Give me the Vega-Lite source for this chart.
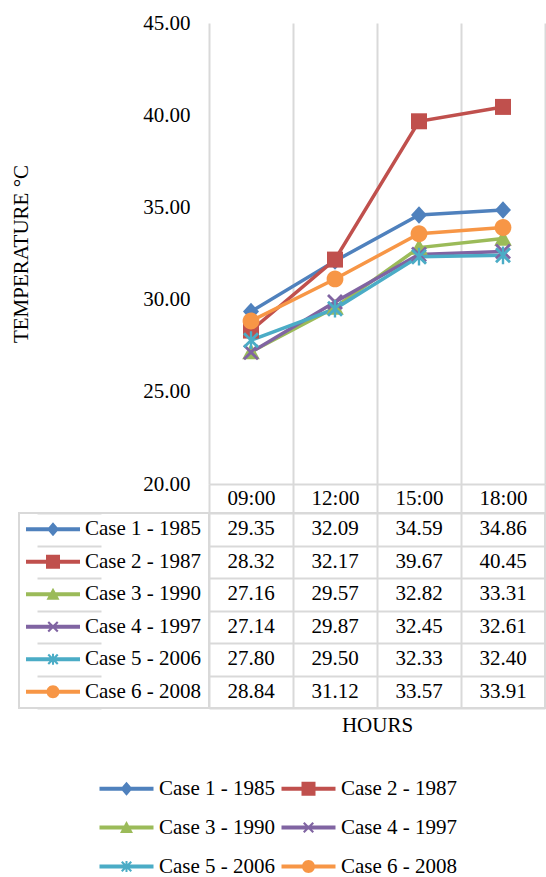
{
  "$schema": "https://vega.github.io/schema/vega-lite/v6.json",
  "padding": {"left": 10, "top": 12, "right": 0, "bottom": 0},
  "background": "white",
  "config": {
    "font": "Liberation Serif",
    "view": {"stroke": "#d9d9d9", "strokeWidth": 2},
    "axis": {"labelFont": "Liberation Serif", "titleFont": "Liberation Serif", "labelFontSize": 21, "titleFontSize": 21, "titleFontWeight": "normal", "labelColor": "#000", "titleColor": "#000"},
    "text": {"font": "Liberation Serif", "fontSize": 21, "color": "#000"}
  },
  "datasets": {
    "temps": [
      {"case": "Case 1 - 1985", "time": "09:00", "value": 29.35},
      {"case": "Case 1 - 1985", "time": "12:00", "value": 32.09},
      {"case": "Case 1 - 1985", "time": "15:00", "value": 34.59},
      {"case": "Case 1 - 1985", "time": "18:00", "value": 34.86},
      {"case": "Case 2 - 1987", "time": "09:00", "value": 28.32},
      {"case": "Case 2 - 1987", "time": "12:00", "value": 32.17},
      {"case": "Case 2 - 1987", "time": "15:00", "value": 39.67},
      {"case": "Case 2 - 1987", "time": "18:00", "value": 40.45},
      {"case": "Case 3 - 1990", "time": "09:00", "value": 27.16},
      {"case": "Case 3 - 1990", "time": "12:00", "value": 29.57},
      {"case": "Case 3 - 1990", "time": "15:00", "value": 32.82},
      {"case": "Case 3 - 1990", "time": "18:00", "value": 33.31},
      {"case": "Case 4 - 1997", "time": "09:00", "value": 27.14},
      {"case": "Case 4 - 1997", "time": "12:00", "value": 29.87},
      {"case": "Case 4 - 1997", "time": "15:00", "value": 32.45},
      {"case": "Case 4 - 1997", "time": "18:00", "value": 32.61},
      {"case": "Case 5 - 2006", "time": "09:00", "value": 27.80},
      {"case": "Case 5 - 2006", "time": "12:00", "value": 29.50},
      {"case": "Case 5 - 2006", "time": "15:00", "value": 32.33},
      {"case": "Case 5 - 2006", "time": "18:00", "value": 32.40},
      {"case": "Case 6 - 2008", "time": "09:00", "value": 28.84},
      {"case": "Case 6 - 2008", "time": "12:00", "value": 31.12},
      {"case": "Case 6 - 2008", "time": "15:00", "value": 33.57},
      {"case": "Case 6 - 2008", "time": "18:00", "value": 33.91}
    ]
  },
  "columns": 2,
  "spacing": {"row": 29, "column": 0},
  "bounds": "flush",
  "resolve": {"scale": {"color": "independent", "shape": "independent", "x": "independent", "y": "independent"}},
  "concat": [
    {
      "width": 190, "height": 461,
      "data": {"values": []},
      "mark": "point",
      "view": {"stroke": null}
    },
    {
      "width": 336, "height": 461,
      "data": {"name": "temps"},
      "view": {"stroke": null},
      "encoding": {
        "x": {"field": "time", "type": "ordinal", "scale": {"paddingInner": 0, "paddingOuter": 0},
          "axis": {"title": null, "labelAngle": 0, "domainColor": "#d9d9d9", "domainWidth": 2, "tickColor": "#d9d9d9", "tickWidth": 2, "tickSize": 29, "tickBand": "extent", "grid": true, "gridColor": "#d9d9d9", "gridWidth": 2, "labelPadding": -15, "labelBaseline": "middle"}},
        "y": {"field": "value", "type": "quantitative", "scale": {"domain": [20, 45], "zero": false, "nice": false},
          "axis": {"title": "TEMPERATURE °C", "format": ".2f", "values": [20, 25, 30, 35, 40, 45], "grid": false, "domain": false, "ticks": false, "labelPadding": 19, "titlePadding": 111}},
        "color": {"field": "case", "type": "nominal",
          "scale": {"domain": ["Case 1 - 1985", "Case 2 - 1987", "Case 3 - 1990", "Case 4 - 1997", "Case 5 - 2006", "Case 6 - 2008"],
                    "range": ["#4F81BD", "#C0504D", "#9BBB59", "#8064A2", "#4BACC6", "#F79646"]},
          "legend": null}
      },
      "layer": [
        {"mark": {"type": "line", "strokeWidth": 3.5}},
        {"mark": {"type": "point", "filled": true, "opacity": 1, "size": 256},
          "encoding": {
            "shape": {"field": "case", "type": "nominal",
              "scale": {"domain": ["Case 1 - 1985", "Case 2 - 1987", "Case 3 - 1990", "Case 4 - 1997", "Case 5 - 2006", "Case 6 - 2008"],
                "range": [
                  "M0,-1.1L1,0L0,1.1L-1,0Z",
                  "M-1,-1H1V1H-1Z",
                  "M0,-1.1L1.1,0.9H-1.1Z",
                  "M-1,-0.75L-0.75,-1L0,-0.25L0.75,-1L1,-0.75L0.25,0L1,0.75L0.75,1L0,0.25L-0.75,1L-1,0.75L-0.25,0Z",
                  "M-1,-0.75L-0.75,-1L0,-0.25L0.75,-1L1,-0.75L0.25,0L1,0.75L0.75,1L0,0.25L-0.75,1L-1,0.75L-0.25,0Z M-0.15,-1.1H0.15V1.1H-0.15Z",
                  "M-1.05,0A1.05,1.05,0,1,1,1.05,0A1.05,1.05,0,1,1,-1.05,0Z"
                ]},
              "legend": null}
          }}
      ]
    },
    {
      "width": 190, "height": 195,
      "data": {"name": "temps"},
      "transform": [{"filter": "datum.time == '09:00'"}],
      "encoding": {
        "y": {"field": "case", "type": "nominal",
          "scale": {"domain": ["Case 1 - 1985", "Case 2 - 1987", "Case 3 - 1990", "Case 4 - 1997", "Case 5 - 2006", "Case 6 - 2008"], "paddingInner": 0, "paddingOuter": 0},
          "axis": {"title": null, "labels": false, "ticks": false, "domain": false, "grid": true, "tickBand": "extent", "gridColor": "#d9d9d9", "gridWidth": 2}}
      },
      "layer": [
        {
          "mark": {"type": "point", "filled": true, "opacity": 1, "size": 400},
          "encoding": {
            "x": {"datum": "icon", "type": "nominal", "scale": {"domain": ["icon", "label"], "range": [18, 82], "paddingInner": 0, "paddingOuter": 0}, "axis": null},
            "color": {"field": "case", "type": "nominal",
              "scale": {"domain": ["Case 1 - 1985", "Case 2 - 1987", "Case 3 - 1990", "Case 4 - 1997", "Case 5 - 2006", "Case 6 - 2008"],
                        "range": ["#4F81BD", "#C0504D", "#9BBB59", "#8064A2", "#4BACC6", "#F79646"]},
              "legend": {"orient": "none", "direction": "horizontal", "legendX": 97, "legendY": 265, "columns": 2, "title": null, "symbolSize": 400, "labelFontSize": 21, "labelFont": "Liberation Serif", "labelColor": "#000", "labelOffset": 22, "rowPadding": 17, "columnPadding": 5, "symbolStrokeWidth": 0, "padding": 0, "labelLimit": 300}},
            "shape": {"field": "case", "type": "nominal",
              "scale": {"domain": ["Case 1 - 1985", "Case 2 - 1987", "Case 3 - 1990", "Case 4 - 1997", "Case 5 - 2006", "Case 6 - 2008"],
                "range": [
                  "M-2.7,-0.2H2.7V0.2H-2.7Z M0,-0.7L0.6,0L0,0.7L-0.6,0Z",
                  "M-2.7,-0.2H2.7V0.2H-2.7Z M-0.7,-0.7H0.7V0.7H-0.7Z",
                  "M-2.7,-0.2H2.7V0.2H-2.7Z M0,-0.65L0.65,0.55H-0.65Z",
                  "M-2.7,-0.2H2.7V0.2H-2.7Z M-0.55,-0.4L-0.4,-0.55L0,-0.15L0.4,-0.55L0.55,-0.4L0.15,0L0.55,0.4L0.4,0.55L0,0.15L-0.4,0.55L-0.55,0.4L-0.15,0Z",
                  "M-2.7,-0.2H2.7V0.2H-2.7Z M-0.55,-0.4L-0.4,-0.55L0,-0.15L0.4,-0.55L0.55,-0.4L0.15,0L0.55,0.4L0.4,0.55L0,0.15L-0.4,0.55L-0.55,0.4L-0.15,0Z M-0.1,-0.55H0.1V0.55H-0.1Z",
                  "M-2.7,-0.2H2.7V0.2H-2.7Z M-0.65,0A0.65,0.65,0,1,1,0.65,0A0.65,0.65,0,1,1,-0.65,0Z"
                ]},
              "legend": {"orient": "none", "direction": "horizontal", "legendX": 97, "legendY": 265, "columns": 2, "title": null, "symbolSize": 400, "labelFontSize": 21, "labelFont": "Liberation Serif", "labelColor": "#000", "labelOffset": 22, "rowPadding": 17, "columnPadding": 5, "symbolStrokeWidth": 0, "padding": 0, "labelLimit": 300}}
          }
        },
        {
          "mark": {"type": "text", "align": "left", "baseline": "middle", "fontSize": 21, "color": "#000"},
          "encoding": {
            "x": {"datum": "label", "type": "nominal"},
            "text": {"field": "case", "type": "nominal"}
          }
        }
      ]
    },
    {
      "width": 336, "height": 195,
      "data": {"name": "temps"},
      "mark": {"type": "text", "fontSize": 21, "baseline": "middle", "color": "#000"},
      "encoding": {
        "x": {"field": "time", "type": "ordinal", "scale": {"paddingInner": 0, "paddingOuter": 0},
          "axis": {"orient": "bottom", "labels": false, "ticks": false, "domain": false, "grid": true, "tickBand": "extent", "gridColor": "#d9d9d9", "gridWidth": 2, "title": "HOURS", "titlePadding": 6}},
        "y": {"field": "case", "type": "nominal",
          "scale": {"domain": ["Case 1 - 1985", "Case 2 - 1987", "Case 3 - 1990", "Case 4 - 1997", "Case 5 - 2006", "Case 6 - 2008"], "paddingInner": 0, "paddingOuter": 0},
          "axis": {"title": null, "labels": false, "ticks": false, "domain": false, "grid": true, "tickBand": "extent", "gridColor": "#d9d9d9", "gridWidth": 2}},
        "text": {"field": "value", "type": "quantitative", "format": ".2f"}
      }
    }
  ]
}
